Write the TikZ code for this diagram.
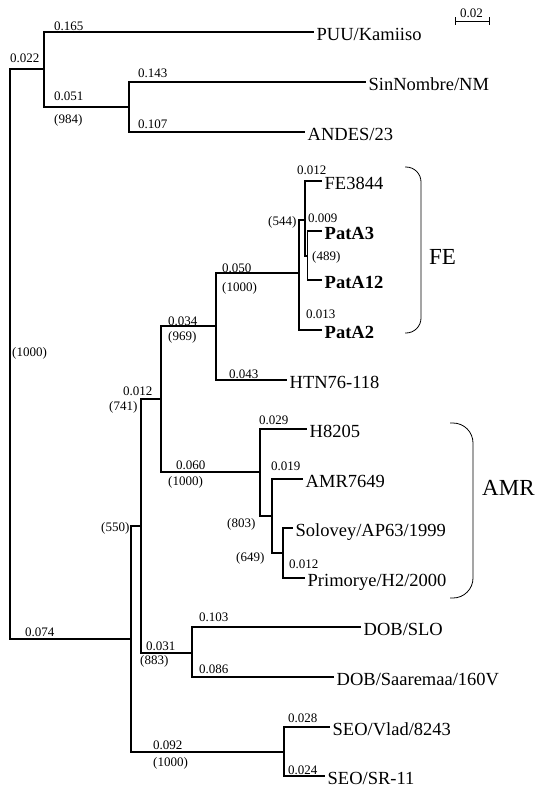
\documentclass[tikz,border=0pt]{standalone}
\usepackage{fontspec}
\setmainfont{Liberation Serif}
\tikzset{
  branch/.style={line width=1.1pt},
  num/.style={font=\fontsize{13}{15}\selectfont, anchor=base west, inner sep=0pt},
  taxon/.style={font=\fontsize{18.5}{21}\selectfont, anchor=base west, inner sep=0pt,
                xshift=2.5pt, yshift=-8.5pt},
  strain/.style={taxon, font=\fontsize{18.5}{21}\selectfont\bfseries},
  clade/.style={line width=0.8pt},
  cladename/.style={font=\fontsize{23}{26}\selectfont, anchor=west, inner sep=0pt},
}

\begin{document}
\begin{tikzpicture}[x=1pt,y=-1pt]
  \useasboundingbox (0,0) rectangle (539,790);

  % internal nodes
  \coordinate (root) at (10,354);
  \coordinate (nA)   at (44,69);
  \coordinate (nC)   at (129,107);
  \coordinate (nB)   at (131,639);
  \coordinate (n550) at (141,526);
  \coordinate (n741) at (161,399);
  \coordinate (n969) at (216,326);
  \coordinate (nFE)  at (299,273);
  \coordinate (n544) at (305,220);
  \coordinate (n489) at (307.5,256);
  \coordinate (nAMR) at (260,472);
  \coordinate (n803) at (272,516);
  \coordinate (n649) at (283,553);
  \coordinate (nDOB) at (192,653);
  \coordinate (nSEO) at (284,752);

  % leaves
  \coordinate (puu)      at (314,32);
  \coordinate (sin)      at (366,82);
  \coordinate (andes)    at (305,132);
  \coordinate (fe3844)   at (322,181);
  \coordinate (pata3)    at (322,231);
  \coordinate (pata12)   at (322,280);
  \coordinate (pata2)    at (322,330);
  \coordinate (htn)      at (287,380);
  \coordinate (h8205)    at (307,429);
  \coordinate (amr7649)  at (303,479);
  \coordinate (solovey)  at (293,528);
  \coordinate (primorye) at (305,578);
  \coordinate (dobslo)   at (361,627);
  \coordinate (dobsaa)   at (334,677);
  \coordinate (seovlad)  at (330,727);
  \coordinate (seosr)    at (325,776);

  % branches
  \draw[branch] (root) |- (nA) (root) |- (nB);
  \draw[branch] (nA) |- (puu) (nA) |- (nC);
  \draw[branch] (nC) |- (sin) (nC) |- (andes);
  \draw[branch] (nB) |- (n550) (nB) |- (nSEO);
  \draw[branch] (n550) |- (n741) (n550) |- (nDOB);
  \draw[branch] (n741) |- (n969) (n741) |- (nAMR);
  \draw[branch] (n969) |- (nFE) (n969) |- (htn);
  \draw[branch] (nFE) |- (n544) (nFE) |- (pata2);
  \draw[branch] (n544) |- (fe3844) (n544) |- (n489);
  \draw[branch] (n489) |- (pata3) (n489) |- (pata12);
  \draw[branch] (nAMR) |- (h8205) (nAMR) |- (n803);
  \draw[branch] (n803) |- (amr7649) (n803) |- (n649);
  \draw[branch] (n649) |- (solovey) (n649) |- (primorye);
  \draw[branch] (nDOB) |- (dobslo) (nDOB) |- (dobsaa);
  \draw[branch] (nSEO) |- (seovlad) (nSEO) |- (seosr);

  % taxa
  \node[taxon]  (tPUU)  at (puu)      {PUU/Kamiiso};
  \node[taxon]  (tSIN)  at (sin)      {SinNombre/NM};
  \node[taxon]  (tAND)  at (andes)    {ANDES/23};
  \node[taxon]  (tFE)   at (fe3844)   {FE3844};
  \node[strain] (tPA3)  at (pata3)    {PatA3};
  \node[strain] (tPA12) at (pata12)   {PatA12};
  \node[strain] (tPA2)  at (pata2)    {PatA2};
  \node[taxon]  (tHTN)  at (htn)      {HTN76-118};
  \node[taxon]  (tH82)  at (h8205)    {H8205};
  \node[taxon]  (tAMR)  at (amr7649)  {AMR7649};
  \node[taxon]  (tSOL)  at (solovey)  {Solovey/AP63/1999};
  \node[taxon]  (tPRI)  at (primorye) {Primorye/H2/2000};
  \node[taxon]  (tSLO)  at (dobslo)   {DOB/SLO};
  \node[taxon]  (tSAA)  at (dobsaa)   {DOB/Saaremaa/160V};
  \node[taxon]  (tVLA)  at (seovlad)  {SEO/Vlad/8243};
  \node[taxon]  (tSR)   at (seosr)    {SEO/SR-11};

  % branch lengths and bootstrap values
  \node[num] (b022) at (10,62.5)   {0.022};
  \node[num] (s000) at (12,356)    {(1000)};
  \node[num] (b165) at (54,30.5)   {0.165};
  \node[num] (b051) at (54,100)    {0.051};
  \node[num] (s984) at (54,123.5)  {(984)};
  \node[num] (b143) at (138,77)    {0.143};
  \node[num] (b107) at (138,128.5) {0.107};
  \node[num] (b012) at (297,174.5) {0.012};
  \node[num] (s544) at (268,225)   {(544)};
  \node[num] (b009) at (308,222.5) {0.009};
  \node[num] (s489) at (312,260)   {(489)};
  \node[num] (b050) at (222,272)   {0.050};
  \node[num] (s100) at (222,291)   {(1000)};
  \node[num] (b013) at (306,318.5) {0.013};
  \node[num] (b034) at (168,325)   {0.034};
  \node[num] (s969) at (168,340)   {(969)};
  \node[num] (b043) at (229,378)   {0.043};
  \node[num] (bx12) at (123,395.5) {0.012};
  \node[num] (s741) at (109,410)   {(741)};
  \node[num] (b060) at (176,469)   {0.060};
  \node[num] (s101) at (168,485)   {(1000)};
  \node[num] (b029) at (259,424.5) {0.029};
  \node[num] (b019) at (271,470.5) {0.019};
  \node[num] (s803) at (227,527)   {(803)};
  \node[num] (s649) at (236,561)   {(649)};
  \node[num] (by12) at (289,568.5) {0.012};
  \node[num] (s550) at (101,531)   {(550)};
  \node[num] (b074) at (25,636.5)  {0.074};
  \node[num] (b031) at (146,650.5) {0.031};
  \node[num] (s883) at (140,664)   {(883)};
  \node[num] (b103) at (199,621)   {0.103};
  \node[num] (b086) at (199,673.5) {0.086};
  \node[num] (b092) at (153,749.5) {0.092};
  \node[num] (s102) at (153,766)   {(1000)};
  \node[num] (b028) at (288,722.5) {0.028};
  \node[num] (b024) at (288,774.5) {0.024};

  % scale bar
  \coordinate (sbl) at (455,21);
  \coordinate (sbr) at (489,21);
  \draw[clade] ([yshift=4pt]sbl) -- ([yshift=-4pt]sbl) (sbl) -- (sbr)
               ([yshift=4pt]sbr) -- ([yshift=-4pt]sbr);
  \node[num] (scale) at (460,17.5) {0.02};

  % clade brackets
  \draw[clade, rounded corners=15pt] (405,167) -- (421,167) -- (421,333) -- (405,333);
  \node[cladename] (cFE) at (429,257) {FE};
  \draw[clade, rounded corners=20pt] (450,423) -- (473,423) -- (473,598) -- (450,598);
  \node[cladename] (cAMR) at (482,488) {AMR};
\end{tikzpicture}
\end{document}
